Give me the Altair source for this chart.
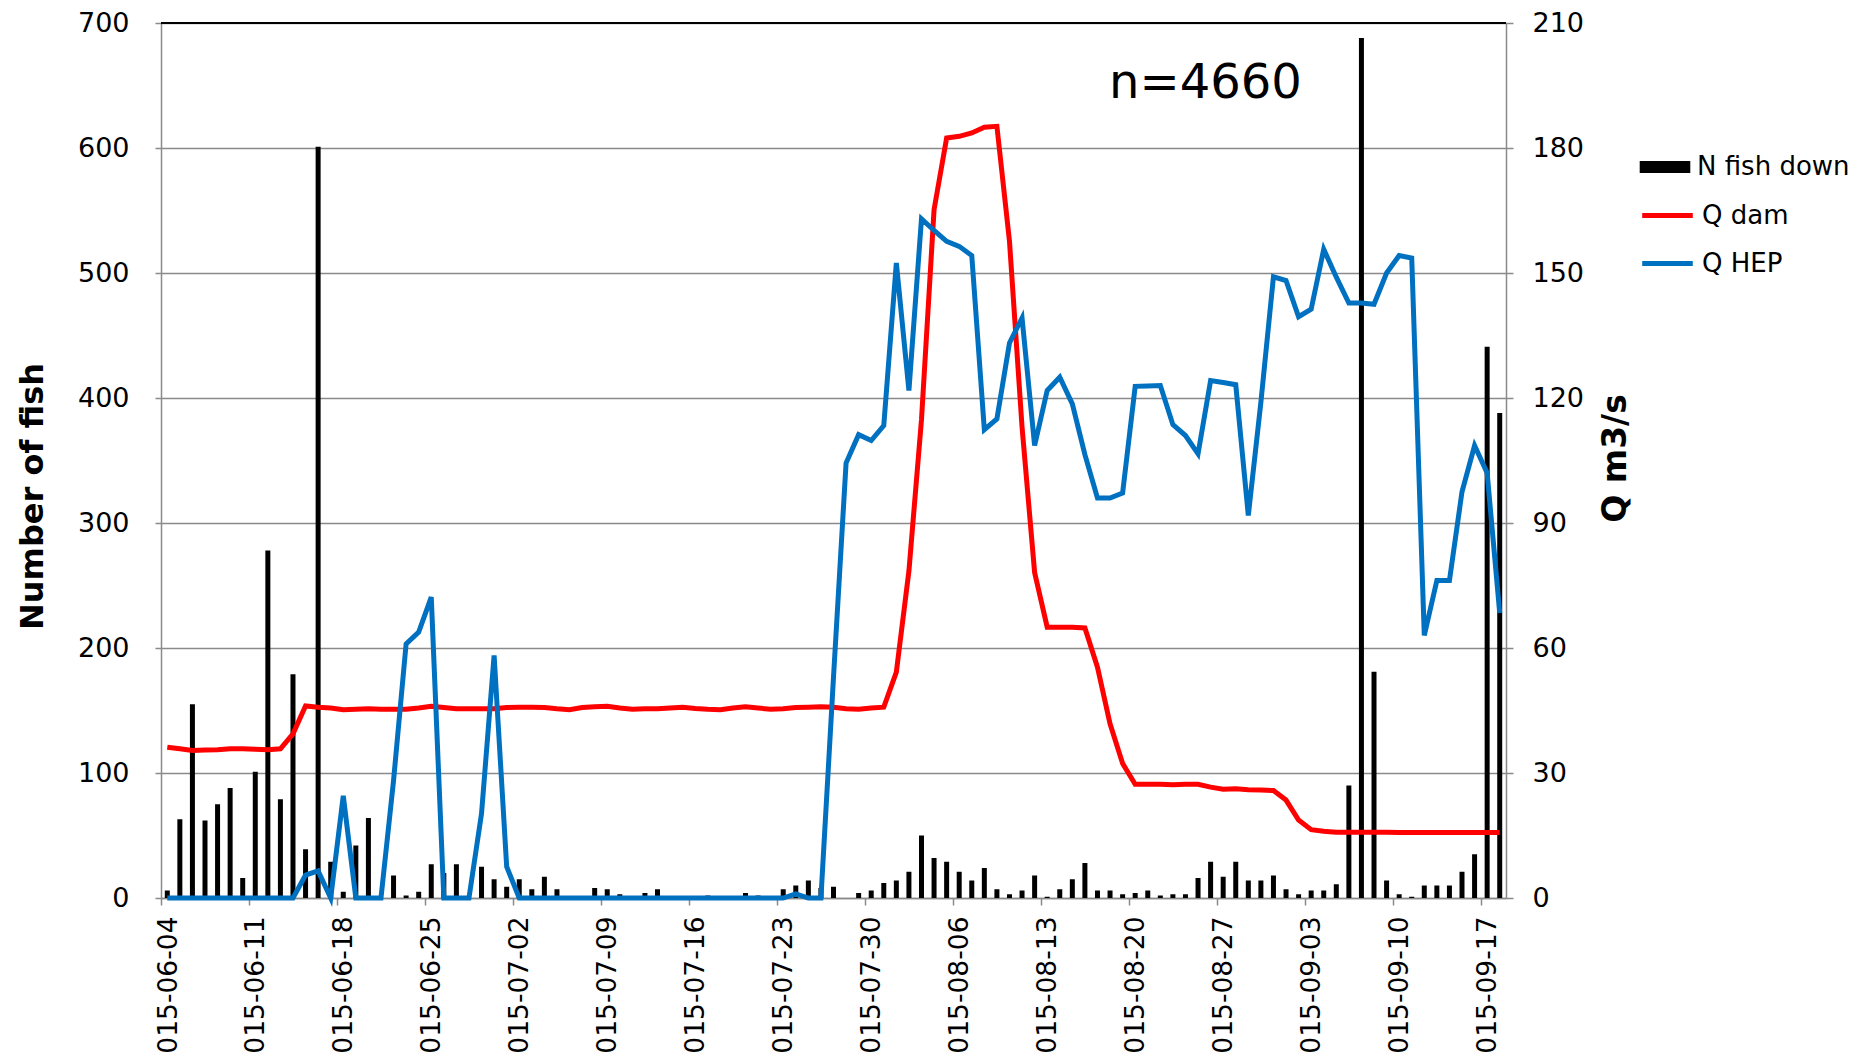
import altair as alt
import pandas as pd

FONT = "DejaVu Sans"
GRAY = "#8a8a8a"

start_date = "2015-06-04"

fish_down = [6, 63, 155, 62, 75, 88, 16, 101, 278, 79,
             179, 39, 601, 29, 5, 42, 64, 0, 18, 2,
             5, 27, 20, 27, 0, 25, 15, 9, 15, 7,
             17, 7, 0, 0, 8, 7, 3, 0, 4, 7,
             0, 0, 0, 2, 1, 1, 4, 2, 0, 7,
             10, 14, 8, 9, 0, 4, 6, 12, 14, 21,
             50, 32, 29, 21, 14, 24, 7, 3, 6, 18,
             1, 7, 15, 28, 6, 6, 3, 4, 6, 2,
             3, 3, 16, 29, 17, 29, 14, 14, 18, 7,
             3, 6, 6, 11, 90, 688, 181, 14, 3, 1,
             10, 10, 10, 21, 35, 441, 388]

q_dam = [36.2, 35.8, 35.4, 35.5, 35.6, 35.8, 35.8, 35.7, 35.6, 35.8,
         39.4, 46.1, 45.8, 45.6, 45.2, 45.3, 45.4, 45.3, 45.3, 45.3,
         45.6, 46.0, 45.7, 45.4, 45.4, 45.4, 45.4, 45.7, 45.8, 45.8,
         45.7, 45.4, 45.2, 45.7, 45.9, 46.0, 45.6, 45.3, 45.4, 45.4,
         45.6, 45.8, 45.5, 45.3, 45.2, 45.6, 45.9, 45.6, 45.3, 45.4,
         45.7, 45.8, 45.9, 45.8, 45.4, 45.3, 45.6, 45.8, 54.2, 78.5,
         114.8, 165.2, 182.4, 182.8, 183.6, 185.0, 185.2, 157.6, 113.0, 78.1,
         65.0, 65.0, 65.0, 64.8, 55.4, 41.8, 32.3, 27.3, 27.3, 27.3,
         27.2, 27.3, 27.3, 26.6, 26.1, 26.2, 26.0, 25.9, 25.8, 23.5,
         18.7, 16.4, 16.0, 15.8, 15.8, 15.8, 15.8, 15.8, 15.7, 15.7,
         15.7, 15.7, 15.7, 15.7, 15.7, 15.7, 15.7]

q_hep = [0, 0, 0, 0, 0, 0, 0, 0, 0, 0,
         0, 5.5, 6.5, 0, 24.5, 0, 0, 0, 28.2, 61.0,
         63.8, 72.2, 0, 0, 0, 20.3, 58.2, 7.5, 0, 0,
         0, 0, 0, 0, 0, 0, 0, 0, 0, 0,
         0, 0, 0, 0, 0, 0, 0, 0, 0, 0,
         1.0, 0, 0, 53.0, 104.4, 111.2, 109.8, 113.4, 152.4, 121.8,
         163.0, 160.2, 157.6, 156.4, 154.2, 112.4, 115.0, 133.2, 139.2, 108.6,
         121.8, 125.0, 118.6, 106.4, 96.0, 96.0, 97.2, 122.8, 122.9, 123.0,
         113.6, 111.0, 106.6, 124.2, 123.7, 123.2, 91.8, 119.0, 149.1, 148.2,
         139.5, 141.3, 155.7, 149.0, 142.8, 142.8, 142.5, 150.0, 154.2, 153.6,
         63.0, 76.2, 76.2, 97.5, 108.6, 102.0, 68.4]

# tick dates; the reference shows them with the leading "2" cut off
tick_labels = ["2015-06-04", "2015-06-11", "2015-06-18", "2015-06-25",
               "2015-07-02", "2015-07-09", "2015-07-16", "2015-07-23",
               "2015-07-30", "2015-08-06", "2015-08-13", "2015-08-20",
               "2015-08-27", "2015-09-03", "2015-09-10", "2015-09-17"]

fish_ticks = [0, 100, 200, 300, 400, 500, 600, 700]
q_ticks = [0, 30, 60, 90, 120, 150, 180, 210]

series_names = ["N fish down", "Q dam", "Q HEP"]
series_colors = ["#000000", "#FF0000", "#0070C0"]

annotation_text = ["n=4660"]
annotation_date = ["2015-08-18 10:05"]
annotation_fish = [640]

days = pd.date_range(start_date, periods=len(fish_down), freq="D")
mid = days + pd.Timedelta(hours=12)

bars_df = pd.DataFrame({"date": mid, "fish": fish_down, "series": series_names[0]})
lines_df = pd.concat([
    pd.DataFrame({"date": mid, "q": q_dam, "series": series_names[1]}),
    pd.DataFrame({"date": mid, "q": q_hep, "series": series_names[2]}),
], ignore_index=True)
top_df = pd.DataFrame({"fish": [fish_ticks[-1]]})
text_df = pd.DataFrame({"date": pd.to_datetime(annotation_date),
                        "fish": annotation_fish, "label": annotation_text})


def dt(ts):
    ts = pd.Timestamp(ts)
    return alt.DateTime(year=ts.year, month=ts.month, date=ts.day)


x_domain = [dt(days[0]), dt(days[-1] + pd.Timedelta(days=1))]
tick_vals = [dt(t) for t in tick_labels]

x_enc = alt.X(
    "date:T",
    scale=alt.Scale(domain=x_domain, padding=0, nice=False),
    axis=alt.Axis(values=tick_vals,
                  labelExpr="slice(timeFormat(datum.value, '%Y-%m-%d'), 1)",
                  labelAngle=270,
                  labelAlign="right", labelBaseline="middle",
                  labelFontSize=26.5, labelFont=FONT, labelColor="black",
                  labelPadding=11, labelOffset=7, labelFlush=False,
                  labelOverlap=False, labelBound=False,
                  tickSize=7, tickColor=GRAY, tickWidth=1.5,
                  domainColor=GRAY, domainWidth=1.5, grid=False),
    title=None,
)

fish_scale = alt.Scale(domain=[0, 700], nice=False, zero=True)

bars = alt.Chart(bars_df).mark_bar(size=5).encode(
    x=x_enc,
    y=alt.Y("fish:Q", scale=fish_scale,
            axis=alt.Axis(orient="left", values=fish_ticks, grid=True,
                          gridColor=GRAY, gridWidth=1.5,
                          domainColor=GRAY, domainWidth=1.5,
                          tickColor=GRAY, tickWidth=1.5, tickSize=6,
                          labelFontSize=27, labelFont=FONT, labelColor="black",
                          labelPadding=26,
                          title="Number of fish", titleFont=FONT,
                          titleFontSize=32, titleFontWeight="bold",
                          titleColor="black", titleAngle=270,
                          titleAlign="center", titleBaseline="alphabetic",
                          titleX=-119, titleY=473)),
    fill=alt.Fill("series:N",
                  scale=alt.Scale(domain=series_names[:1], range=series_colors[:1]),
                  legend=alt.Legend(title=None, orient="none", legendX=1482,
                                    legendY=122,
                                    symbolType="M-1.15,-0.27H1.15V0.27H-1.15Z",
                                    symbolSize=1936, symbolStrokeWidth=0,
                                    labelFontSize=26, labelFont=FONT,
                                    labelColor="black", labelOffset=10,
                                    padding=0, rowPadding=0)),
)

top_line = alt.Chart(top_df).mark_rule(color="black", strokeWidth=2).encode(
    y=alt.Y("fish:Q", scale=fish_scale, axis=None),
)

lines = alt.Chart(lines_df).mark_line(strokeWidth=5).encode(
    x=x_enc,
    y=alt.Y("q:Q", scale=alt.Scale(domain=[0, 210], nice=False),
            axis=alt.Axis(orient="right", values=q_ticks, grid=False,
                          domainColor=GRAY, domainWidth=1.5,
                          tickColor=GRAY, tickWidth=1.5, tickSize=7,
                          labelFontSize=27, labelFont=FONT, labelColor="black",
                          labelPadding=19,
                          title="Q m3/s", titleFont=FONT, titleFontSize=33,
                          titleFontWeight="bold", titleColor="black",
                          titleAngle=270, titleAlign="center",
                          titleBaseline="alphabetic", titleX=119, titleY=435)),
    stroke=alt.Stroke("series:N",
                      scale=alt.Scale(domain=series_names[1:], range=series_colors[1:]),
                      legend=alt.Legend(title=None, orient="none", legendX=1482,
                                        legendY=168,
                                        symbolType="M-1.15,0H1.15",
                                        symbolSize=1936, symbolStrokeWidth=5,
                                        labelFontSize=26, labelFont=FONT,
                                        labelColor="black", labelOffset=10,
                                        padding=0, rowPadding=10)),
    order=alt.Order("date:T"),
)

label = alt.Chart(text_df).mark_text(font=FONT, fontSize=48, align="left",
                                     baseline="alphabetic", color="black").encode(
    x=x_enc,
    y=alt.Y("fish:Q", scale=fish_scale, axis=None),
    text="label:N",
)

chart = alt.layer(bars, top_line, lines, label).resolve_scale(
    y="independent"
).properties(
    width=1345,
    height=875,
    autosize=alt.AutoSizeParams(type="none"),
    padding={"left": 153, "top": 15, "right": 352, "bottom": 160},
    background="white",
).configure_view(stroke=None).configure(font=FONT)

chart.save("out.html", embed_options={"renderer": "svg", "actions": False})
